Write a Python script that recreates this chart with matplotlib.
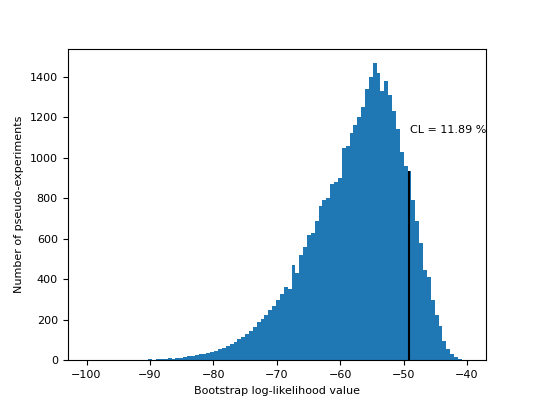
import numpy as np
import matplotlib

matplotlib.use("Agg")
import matplotlib.pyplot as plt

# histogram of bootstrap log-likelihood values, 100 bins
X_MIN = -100.0
X_MAX = -39.0
COUNTS = [
    0, 0, 0, 0, 0, 0, 1, 0, 0, 1,
    0, 1, 2, 3, 2, 4, 5, 4, 6, 7,
    8, 10, 9, 12, 14, 17, 20, 22, 26, 30,
    33, 38, 42, 48, 55, 60, 70, 80, 92, 105,
    118, 130, 145, 165, 190, 205, 225, 250, 270, 300,
    330, 360, 350, 470, 430, 520, 560, 620, 630, 690,
    760, 790, 800, 870, 880, 900, 1050, 1060, 1120, 1160,
    1200, 1250, 1340, 1400, 1465, 1420, 1330, 1380, 1310, 1230,
    1140, 1030, 960, 935, 790, 690, 580, 445, 410, 300,
    225, 170, 95, 55, 30, 15, 6, 3, 1, 1,
]
OBSERVED = -49.2
OBSERVED_HEIGHT = 935
CL_TEXT = "CL = 11.89 %"

edges = np.linspace(X_MIN, X_MAX, len(COUNTS) + 1)
centers = 0.5 * (edges[:-1] + edges[1:])

fig, ax = plt.subplots(figsize=(5.4, 4.05), dpi=100)
ax.hist(centers, bins=edges, weights=COUNTS, color="#1f77b4")
ax.vlines(OBSERVED, 0, OBSERVED_HEIGHT, color="black")
ax.text(OBSERVED + 0.2, 1120, CL_TEXT, fontsize=8)
ax.set_xlabel("Bootstrap log-likelihood value", fontsize=8)
ax.set_ylabel("Number of pseudo-experiments", fontsize=8)
ax.tick_params(labelsize=8)
ax.set_xlim(-103, -37)
fig.subplots_adjust(left=0.125, right=0.9, bottom=0.11, top=0.88)
fig.savefig("out.png")
